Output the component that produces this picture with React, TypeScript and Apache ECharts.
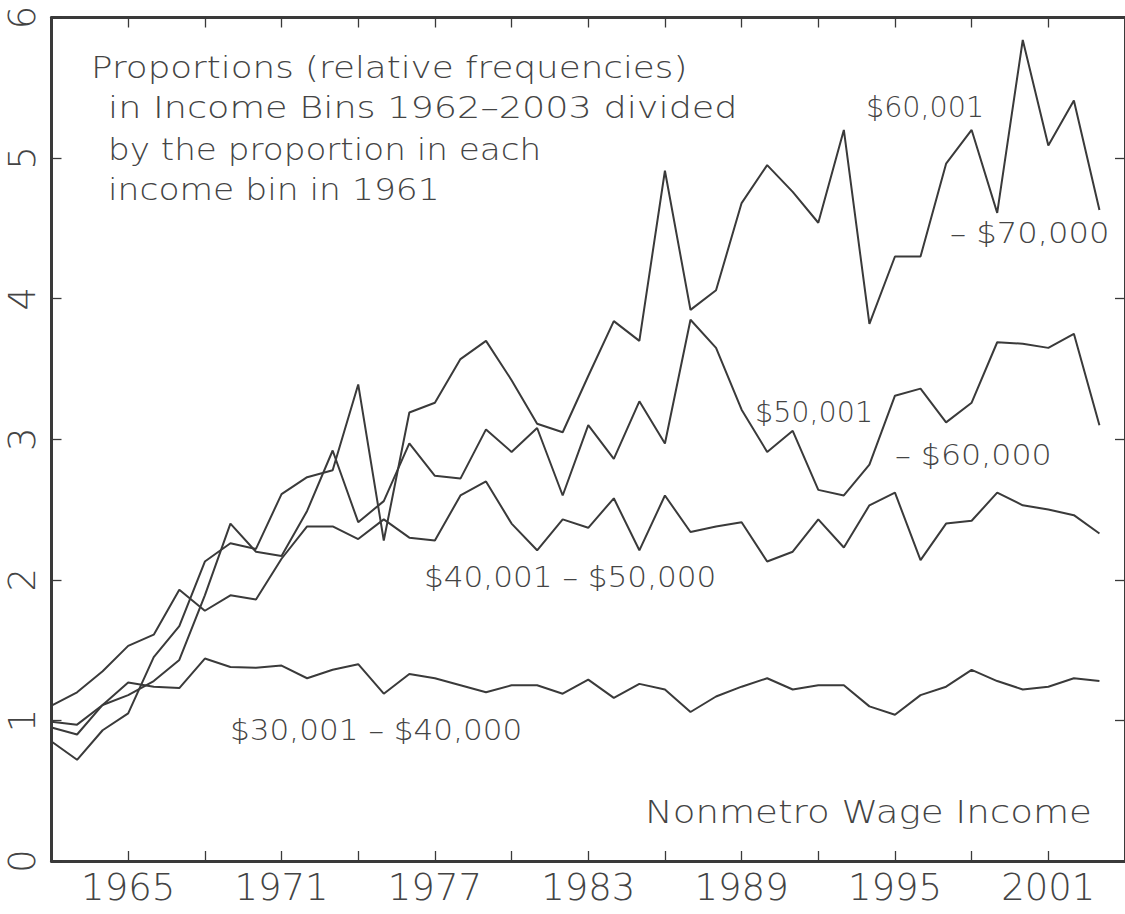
import React, { useEffect, useRef } from "react";
import * as echarts from "echarts";

const years = [
  1962, 1963, 1964, 1965, 1966, 1967, 1968, 1969, 1970, 1971,
  1972, 1973, 1974, 1975, 1976, 1977, 1978, 1979, 1980, 1981,
  1982, 1983, 1984, 1985, 1986, 1987, 1988, 1989, 1990, 1991,
  1992, 1993, 1994, 1995, 1996, 1997, 1998, 1999, 2000, 2001,
  2002, 2003,
];

const bin30to40 = [
  0.99, 0.97, 1.11, 1.27, 1.24, 1.23, 1.44, 1.38, 1.375, 1.39,
  1.3, 1.36, 1.4, 1.19, 1.33, 1.3, 1.25, 1.2, 1.25, 1.25,
  1.19, 1.29, 1.16, 1.26, 1.22, 1.06, 1.17, 1.24, 1.3, 1.22,
  1.25, 1.25, 1.1, 1.04, 1.18, 1.24, 1.36, 1.28, 1.22, 1.24,
  1.3, 1.28,
];

const bin40to50 = [
  1.105, 1.2, 1.35, 1.53, 1.61, 1.93, 1.78, 1.89, 1.86, 2.15,
  2.38, 2.38, 2.29, 2.43, 2.3, 2.28, 2.6, 2.7, 2.4, 2.21,
  2.43, 2.37, 2.58, 2.21, 2.6, 2.34, 2.38, 2.41, 2.13, 2.2,
  2.43, 2.23, 2.53, 2.62, 2.14, 2.4, 2.42, 2.62, 2.53, 2.5,
  2.46, 2.33,
];

const bin50to60 = [
  0.95, 0.9, 1.11, 1.18, 1.28, 1.43, 1.89, 2.4, 2.2, 2.17,
  2.49, 2.92, 2.41, 2.56, 2.97, 2.74, 2.72, 3.07, 2.91, 3.08,
  2.6, 3.1, 2.86, 3.27, 2.97, 3.85, 3.65, 3.21, 2.91, 3.06,
  2.64, 2.6, 2.82, 3.31, 3.36, 3.12, 3.26, 3.69, 3.68, 3.65,
  3.75, 3.1,
];

const bin60to70 = [
  0.85, 0.72, 0.93, 1.05, 1.45, 1.67, 2.13, 2.26, 2.22, 2.61,
  2.73, 2.78, 3.39, 2.28, 3.19, 3.26, 3.57, 3.7, 3.42, 3.11,
  3.05, 3.45, 3.84, 3.7, 4.91, 3.92, 4.06, 4.68, 4.95, 4.76,
  4.54, 5.2, 3.82, 4.3, 4.3, 4.96, 5.2, 4.61, 5.84, 5.09,
  5.41, 4.63,
];

const seriesNames = [
  "$30,001 – $40,000",
  "$40,001 – $50,000",
  "$50,001 – $60,000",
  "$60,001 – $70,000",
];

const titleLines = [
  "Proportions (relative frequencies)",
  "in Income Bins 1962–2003 divided",
  "by the proportion in each",
  "income bin in 1961",
];

const FONT = "DejaVu Sans";
const INK = "#3a3a3a";
const TEXT = "#444444";

export default function App() {
  const ref = useRef<HTMLDivElement>(null);

  useEffect(() => {
    if (!ref.current) return;
    const chart = echarts.init(ref.current, null, { renderer: "svg" });
    const pair = (vals: number[]) => vals.map((v, i) => [years[i], v]);
    const dataSets = [bin30to40, bin40to50, bin50to60, bin60to70];

    const axisLine = { show: true, onZero: false, lineStyle: { color: INK, width: 3 } };
    const axisTick = { show: true, inside: true, length: 10, lineStyle: { color: INK, width: 1.3 } };

    const txt = (text: string, x: number, y: number, size: number, sx: number) => ({
      type: "text",
      x,
      y,
      scaleX: sx,
      silent: true,
      style: {
        text,
        fill: TEXT,
        font: `200 ${size}px "${FONT}"`,
        textVerticalAlign: "middle",
        textAlign: "left",
      },
    });

    chart.setOption({
      animation: false,
      backgroundColor: "#ffffff",
      grid: { left: 51.5, right: -7, top: 17.5, bottom: 53, containLabel: false },
      xAxis: [
        {
          type: "value",
          min: 1962,
          max: 2004,
          interval: 3,
          position: "bottom",
          axisLine,
          axisTick,
          splitLine: { show: false },
          axisLabel: {
            show: true,
            margin: 8,
            fontSize: 37,
            fontFamily: FONT,
            fontWeight: 200,
            color: TEXT,
            showMinLabel: false,
            showMaxLabel: false,
            formatter: (v: number) => ((v - 1965) % 6 === 0 ? String(v) : ""),
          },
        },
        {
          type: "value",
          min: 1962,
          max: 2004,
          interval: 3,
          position: "top",
          axisLine,
          axisTick,
          splitLine: { show: false },
          axisLabel: { show: false },
        },
      ],
      yAxis: [
        {
          type: "value",
          min: 0,
          max: 6,
          interval: 1,
          position: "left",
          axisLine,
          axisTick,
          splitLine: { show: false },
          axisLabel: {
            show: true,
            rotate: 90,
            margin: 11,
            fontSize: 37,
            fontFamily: FONT,
            fontWeight: 200,
            color: TEXT,
          },
        },
        {
          type: "value",
          min: 0,
          max: 6,
          interval: 1,
          position: "right",
          axisLine,
          axisTick,
          splitLine: { show: false },
          axisLabel: { show: false },
        },
      ],
      series: dataSets.map((d, i) => ({
        name: seriesNames[i],
        type: "line",
        xAxisIndex: 0,
        yAxisIndex: 0,
        data: pair(d),
        showSymbol: false,
        symbol: "none",
        lineStyle: { color: INK, width: 2 },
        z: 3,
      })),
      graphic: [
        txt(titleLines[0], 91, 68, 30, 1.19),
        txt(titleLines[1], 108, 108, 30, 1.22),
        txt(titleLines[2], 108, 150, 30, 1.14),
        txt(titleLines[3], 108, 190, 30, 1.15),
        txt("$60,001", 866, 108, 28, 1.02),
        txt("– $70,000", 950, 233, 28, 1.15),
        txt("$50,001", 755, 413, 28, 1.02),
        txt("– $60,000", 895, 455, 28, 1.13),
        txt(seriesNames[1], 424, 578, 28, 1.11),
        txt(seriesNames[0], 230, 731, 28, 1.11),
        txt("Nonmetro Wage Income", 645, 812, 32, 1.16),
      ],
    });

    return () => chart.dispose();
  }, []);

  return (
    <div
      ref={ref}
      style={{ position: "absolute", left: 0, top: 0, width: 1125, height: 914, background: "#fff" }}
    />
  );
}
